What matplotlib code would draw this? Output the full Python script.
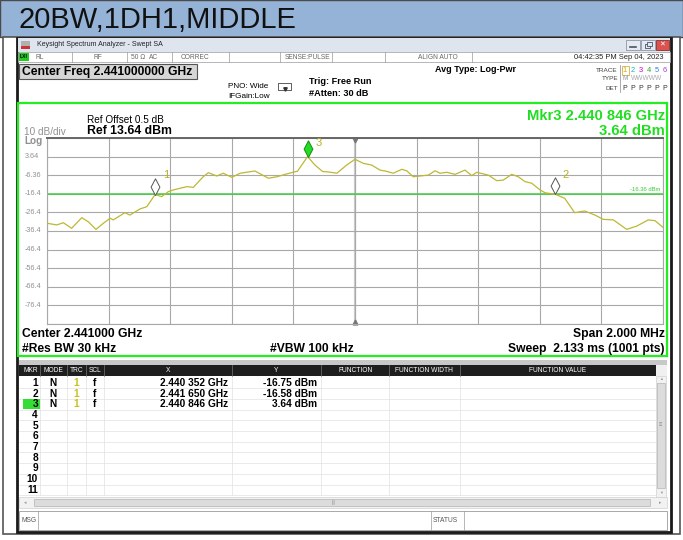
import matplotlib
matplotlib.use("Agg")
import matplotlib.pyplot as plt
import matplotlib.transforms as mtransforms
from matplotlib.patches import Rectangle
from matplotlib.path import Path
import numpy as np

plt.rcParams['font.family'] = ['Liberation Sans', 'DejaVu Sans']

# instrument settings
center_ghz = 2.441
span_mhz = 2.0
ref_level = 13.64
db_per_div = 10
display_line = -16.36

# trace (offset from center in kHz, level in dBm)
freq_offset_khz = [-1000, -968, -947, -920, -887, -866, -841, -817, -795, -785,
                   -747, -731, -698, -676, -649, -628, -606, -590, -568, -546,
                   -525, -493, -476, -449, -428, -400, -373, -325, -281, -254,
                   -222, -195, -187, -154, -130, -105, -87, -59, -27, 0,
                   27, 54, 81, 103, 124, 152, 168, 189, 238, 260,
                   276, 298, 325, 357, 379, 395, 433, 460, 481, 509,
                   530, 552, 574, 601, 617, 650, 681, 713, 746, 779,
                   806, 839, 882, 915, 952, 974, 1000]
level_dbm = [-32.2, -33.1, -31.9, -34.9, -29.2, -31.4, -35.5, -32.2, -29.5, -30.4,
             -26.5, -27.8, -24.5, -23.3, -16.75, -17.9, -15.2, -14.3, -13.4, -12.5,
             -12.9, -7.2, -5.0, -6.8, -5.3, -7.5, -5.3, -4.1, -8.0, -7.2,
             -5.7, -4.5, -4.3, 3.64, -0.9, -4.4, -4.6, -5.3, -0.9, 2.2,
             0.0, -0.9, -3.6, -4.3, -5.3, -3.2, -4.0, -7.2, -6.3, -4.0,
             -5.3, -4.8, -5.9, -3.6, -6.6, -4.8, -6.3, -9.3, -9.0, -5.9,
             -7.2, -9.8, -10.7, -14.3, -15.8, -16.58, -18.8, -26.5, -25.6, -27.8,
             -30.1, -30.4, -35.5, -33.7, -30.4, -30.8, -34.4]

# markers
marker_ids = ['1', '2', '3']
marker_freq_ghz = [2.440352, 2.441650, 2.440846]
marker_level_dbm = [-16.75, -16.58, 3.64]
marker_x_text = ['2.440 352 GHz', '2.441 650 GHz', '2.440 846 GHz']
marker_y_text = ['-16.75 dBm', '-16.58 dBm', '3.64 dBm']
active_marker = 3

table_headers = ['MKR', 'MODE', 'TRC', 'SCL', 'X', 'Y', 'FUNCTION', 'FUNCTION WIDTH', 'FUNCTION VALUE']
table_rows = 11

W, H = 683, 540
fig = plt.figure(figsize=(W / 100, H / 100), dpi=100)

# pixel canvas for the screenshot chrome
bg = fig.add_axes([0, 0, 1, 1])
bg.set_xlim(0, W)
bg.set_ylim(H, 0)
bg.axis('off')


def box(x0, y0, x1, y1, fc='none', ec='none', lw=0.7, z=1):
    bg.add_patch(Rectangle((x0, y0), x1 - x0, y1 - y0, facecolor=fc, edgecolor=ec, linewidth=lw, zorder=z))


def txt(x, y, s, size=6, color='black', ha='left', weight='normal', z=5, **kw):
    bg.text(x, y, s, fontsize=size, color=color, ha=ha, va='center', fontweight=weight, zorder=z, **kw)


# header band with title
box(0, 0, W, 37, fc='#95b3d7', ec='#4a4a4a', lw=1.0)
txt(18, 20, '20BW,1DH1,MIDDLE', size=21, color='#111111')

# outer cell frame + window
box(3, 37, 680, 534, fc='white', ec='#555555', lw=1.2)
box(17, 38, 671, 532, fc='white', ec='#1a1a1a', lw=2.0)

# window title bar
box(18, 38, 670, 52, fc='#dfe5ee', ec='none')
box(21, 41, 30, 49, fc='#b0b0b0')
box(21, 46, 30, 49, fc='#cc3333')
txt(37, 45, 'Keysight Spectrum Analyzer - Swept SA', size=5, color='#222222')
box(626, 40, 640, 50, fc='#e6eaf0', ec='#8a96a8', lw=0.6, z=3)
box(641, 40, 655, 50, fc='#e6eaf0', ec='#8a96a8', lw=0.6, z=3)
box(656, 40, 669, 50, fc='#d9534f', ec='#8a3030', lw=0.6, z=3)
bg.plot([630, 636], [47, 47], color='#445566', lw=1.2, zorder=4)
box(645, 43.5, 650, 47.5, ec='#445566', lw=0.6, z=4)
box(646.5, 42, 651.5, 46, fc='#e6eaf0', ec='#445566', lw=0.6, z=4)
txt(662.5, 45, '✕', size=5, color='white', ha='center', weight='bold')

# status row
box(18, 52, 670, 62, fc='white', ec='#9a9a9a', lw=0.5)
box(19, 53, 29, 61, fc='#22cc22')
txt(24, 57, 'LXI', size=3.6, color='black', ha='center', weight='bold')
for sx in [72, 127, 172, 229, 280, 332, 385, 472]:
    bg.plot([sx, sx], [52, 62], color='#9a9a9a', lw=0.5, zorder=3)
for s, sx in [('RL', 36), ('RF', 93), ('50 Ω', 131), ('AC', 149), ('CORREC', 181),
              ('SENSE:PULSE', 285), ('ALIGN AUTO', 418)]:
    txt(sx, 57.3, s, size=4.8, color='#666666')
txt(664, 57.3, '04:42:35 PM Sep 04, 2023', size=5.4, color='#222222', ha='right')

# settings panel
box(19, 64, 197, 79, fc='#d6d6d6', ec='#555555', lw=0.8)
txt(22, 72, 'Center Freq 2.441000000 GHz', size=8.7, weight='bold')
txt(435, 70, 'Avg Type: Log-Pwr', size=6.5, weight='bold')
txt(228, 86, 'PNO: Wide', size=5.9)
txt(228, 96, 'IFGain:Low', size=5.9)
bg.add_patch(Rectangle((278, 83), 13, 7, facecolor='white', edgecolor='#444444', lw=0.6,
                       joinstyle='round', zorder=3))
bg.plot([284.5], [88.5], marker='v', ms=2.5, color='#333333', zorder=4)
txt(309, 81, 'Trig: Free Run', size=6.6, weight='bold')
txt(309, 94, '#Atten: 30 dB', size=6.6, weight='bold')
txt(618, 70, 'TRACE', size=4.6, color='#444444', ha='right')
txt(618, 79, 'TYPE', size=4.6, color='#444444', ha='right')
txt(618, 88, 'DET', size=4.6, color='#444444', ha='right')
bg.plot([620, 620], [65, 92], color='#888888', lw=0.5)
trace_colors = ['#d4a017', '#00b8c8', '#d000d0', '#22aa22', '#3a7ae0', '#9a40e0']
for i, c in enumerate(trace_colors):
    xx = 625 + i * 8
    txt(xx, 70, str(i + 1), size=5.4, color=c, ha='center')
    txt(xx, 88, 'P', size=5, color='#333333', ha='center')
box(621.5, 65.5, 628.5, 75, ec='#d4a017', lw=0.5)
txt(625, 79, 'M', size=4.8, color='#999999', ha='center')
txt(631, 79, 'WWWWW', size=4.8, color='#aaaaaa', ha='left')

# green display frame
box(18, 103, 667, 356, fc='white', ec='#22ee22', lw=1.6, z=1)
txt(87, 120, 'Ref Offset 0.5 dB', size=7.2)
txt(87, 131, 'Ref 13.64 dBm', size=8.8, weight='bold')
txt(24, 132, '10 dB/div', size=7.2, color='#909090')
txt(24, 141, 'Log', size=7.2, color='#909090', weight='bold')
txt(665, 116, 'Mkr%d %s' % (active_marker, marker_x_text[active_marker - 1]),
    size=10.6, color='#22dd22', ha='right', weight='bold')
txt(665, 131, marker_y_text[active_marker - 1], size=10.6,
    color='#22dd22', ha='right', weight='bold')

txt(22, 334, 'Center 2.441000 GHz', size=8.7, weight='bold')
txt(665, 334, 'Span 2.000 MHz', size=8.7, weight='bold', ha='right')
txt(22, 349, '#Res BW 30 kHz', size=8.7, weight='bold')
txt(270, 349, '#VBW 100 kHz', size=8.7, weight='bold')
txt(665, 349, 'Sweep  2.133 ms (1001 pts)', size=8.7, weight='bold', ha='right')

# trace axes on the graticule
ax = fig.add_axes([47 / W, 1 - 324 / H, 616 / W, 186 / H], zorder=2)
ax.set_facecolor('none')
f_lo = center_ghz - span_mhz / 2000
f_hi = center_ghz + span_mhz / 2000
bottom = ref_level - 10 * db_per_div
ax.set_xlim(f_lo, f_hi)
ax.set_ylim(bottom, ref_level)
ax.set_xticks(np.linspace(f_lo, f_hi, 11))
ax.set_yticks(np.linspace(bottom, ref_level, 11))
ax.grid(True, color='#a8a8a8', lw=0.8)
ax.tick_params(length=0, labelbottom=False, labelleft=False)
for side in ['left', 'right', 'bottom']:
    ax.spines[side].set_color('#a8a8a8')
    ax.spines[side].set_linewidth(0.8)
ax.spines['top'].set_color('#666666')
ax.spines['top'].set_linewidth(1.4)
ax.axvline(center_ghz, color='#cccccc', lw=1.6, zorder=1)
ax.plot([center_ghz], [ref_level - 0.9], marker='v', ms=3.5, color='#777777', clip_on=False)
ax.plot([center_ghz], [bottom + 0.9], marker='^', ms=3.5, color='#777777', clip_on=False)

ax.axhline(display_line, color='#44cc44', lw=1.1, zorder=2)
ax.text(0.995, display_line + 1.2, '%.2f dBm' % display_line, transform=ax.get_yaxis_transform(),
        ha='right', va='bottom', fontsize=4.2, color='#33cc33')

trace_f = [center_ghz + k / 1e6 for k in freq_offset_khz]
ax.plot(trace_f, level_dbm, color='#bdb832', lw=0.9, zorder=3)

# y scale labels on the left
lab_tr = mtransforms.blended_transform_factory(fig.transFigure, ax.transData)
for k in range(1, 10):
    v = ref_level - k * db_per_div
    fig.text(25 / W, v, '%.3g' % v, transform=lab_tr, fontsize=5.2, color='#909090',
             ha='left', va='center')

diamond = Path([(0, 0), (0.53, 1), (0, 2), (-0.53, 1), (0, 0)],
               [Path.MOVETO, Path.LINETO, Path.LINETO, Path.LINETO, Path.CLOSEPOLY])
for mid, mf, ml in zip(marker_ids, marker_freq_ghz, marker_level_dbm):
    act = int(mid) == active_marker
    ax.plot([mf], [ml], marker=diamond, ms=24, mfc='#22dd22' if act else 'white',
            mec='#1a8a1a' if act else '#555555', mew=0.7, clip_on=False, zorder=5)
    dy = 10 if act else 14
    ax.annotate(mid, (mf, ml), xytext=(5.5, dy), textcoords='offset points',
                fontsize=8, color='#b8b020', ha='left', va='center', zorder=6)

# marker table
box(19, 360, 667, 365, fc='#c8c8c8')
col_edges = [19, 40, 66.7, 85.7, 104.3, 231.7, 321.4, 389, 459.5, 655.5]
box(19, 365, 655.5, 376, fc='#1e1e1e')
box(655.5, 365, 667, 376, fc='#f0f0f0')
for i, hname in enumerate(table_headers):
    xc = (col_edges[i] + col_edges[i + 1]) / 2
    if i == 0:
        xc = 31
    txt(xc, 370.5, hname, size=4.8, color='white', ha='center')
for e in col_edges[1:-1]:
    bg.plot([e, e], [365, 376], color='#777777', lw=0.5, zorder=3)
row_h = 10.7
row0 = 377.5
for r in range(table_rows):
    y0 = row0 + r * row_h
    bg.plot([19, 655.5], [y0 + row_h, y0 + row_h], color='#e2e2e2', lw=0.5, zorder=2)
for e in col_edges[1:-1]:
    bg.plot([e, e], [376, row0 + table_rows * row_h], color='#e2e2e2', lw=0.5, zorder=2)
for r in range(table_rows):
    yc = row0 + r * row_h + row_h / 2
    if r + 1 == active_marker:
        box(22.5, yc - 5, 40, yc + 5.2, fc='#33dd33', z=2)
    txt(38, yc, str(r + 1), size=7.3, weight='bold', ha='right')
    if r < len(marker_ids):
        txt(53, yc, 'N', size=7.3, weight='bold', ha='center')
        txt(76, yc, '1', size=7.3, weight='bold', ha='center', color='#c8c020')
        txt(95, yc, 'f', size=7.3, weight='bold', ha='center')
        txt(228, yc, marker_x_text[r], size=7.3, weight='bold', ha='right')
        txt(317, yc, marker_y_text[r], size=7.3, weight='bold', ha='right')

# scrollbars
box(655.5, 376, 666, 497, fc='#f2f2f2', ec='#d0d0d0', lw=0.5)
box(657, 383, 664.5, 488, fc='#dcdcdc', ec='#b5b5b5', lw=0.5)
txt(660.7, 379, '▲', size=2.8, color='#999999', ha='center')
txt(660.7, 493, '▼', size=2.8, color='#999999', ha='center')
txt(660.7, 425, '≡', size=4, color='#888888', ha='center')
box(19, 497, 667, 508, fc='#f2f2f2', ec='#d0d0d0', lw=0.5)
box(34, 499, 650, 506, fc='#dcdcdc', ec='#b5b5b5', lw=0.5)
txt(25, 502.5, '◂', size=3.5, color='#999999', ha='center')
txt(660, 502.5, '▸', size=3.5, color='#999999', ha='center')
txt(334, 502.5, '|||', size=3.5, color='#888888', ha='center')

# message bar
box(19, 511, 667, 530, fc='white', ec='#9a9a9a', lw=0.6)
for sx in [38, 431, 464]:
    bg.plot([sx, sx], [511, 530], color='#9a9a9a', lw=0.5, zorder=3)
txt(21, 521, 'MSG', size=4.8, color='#555555')
txt(433, 521, 'STATUS', size=4.8, color='#555555')

fig.savefig('out.png', dpi=100)
